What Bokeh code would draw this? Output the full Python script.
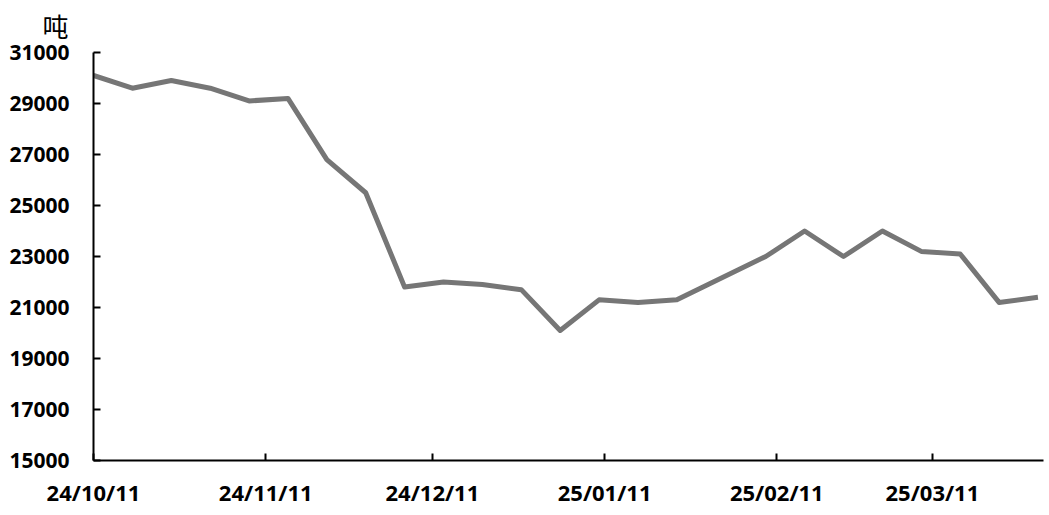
import pandas as pd
from bokeh.plotting import figure
from bokeh.models import Range1d, FixedTicker, DatetimeTickFormatter, ColumnDataSource
from bokeh.embed import file_html
from bokeh.resources import INLINE

# ---- data ----
dates = ["2024-10-11", "2024-10-18", "2024-10-25", "2024-11-01", "2024-11-08",
         "2024-11-15", "2024-11-22", "2024-11-29", "2024-12-06", "2024-12-13",
         "2024-12-20", "2024-12-27", "2025-01-03", "2025-01-10", "2025-01-17",
         "2025-01-24", "2025-02-09", "2025-02-16", "2025-02-23", "2025-03-02",
         "2025-03-09", "2025-03-16", "2025-03-23", "2025-03-30"]
values = [30100, 29600, 29900, 29600, 29100, 29200, 26800, 25500, 21800, 22000,
          21900, 21700, 20100, 21300, 21200, 21300, 23000, 24000, 23000, 24000,
          23200, 23100, 21200, 21400]
x_tick_dates = ["2024-10-11", "2024-11-11", "2024-12-11", "2025-01-11", "2025-02-11", "2025-03-11"]
y_ticks = list(range(15000, 31001, 2000))
unit_label = "吨"

def to_ms(d):
    return pd.Timestamp(d).timestamp() * 1000.0

src = ColumnDataSource(dict(x=pd.to_datetime(dates), y=values))

p = figure(frame_width=950, frame_height=408, output_backend="svg", toolbar_location=None,
           x_axis_type="datetime",
           x_range=Range1d(to_ms("2024-10-11"), to_ms("2025-03-31")),
           y_range=Range1d(15000, 31000),
           min_border_left=93, min_border_right=5, min_border_top=52, min_border_bottom=48)
p.outline_line_color = None
p.grid.visible = False
p.background_fill_color = "white"
p.border_fill_color = "white"

# unit label as a left-shifted title
p.title.text = unit_label
p.title.align = "left"
p.title.offset = -51
p.title.standoff = 19
p.title.text_font = "DejaVu Sans, Noto Sans CJK SC"
p.title.text_font_size = "26px"
p.title.text_font_style = "normal"
p.title.text_color = "black"

p.line("x", "y", source=src, line_color="#767676", line_width=5, line_join="round")

# axes
p.xaxis.ticker = FixedTicker(ticks=[to_ms(d) for d in x_tick_dates])
fmt = "%y/%m/%d"
p.xaxis.formatter = DatetimeTickFormatter(days=fmt, months=fmt, years=fmt, hours=fmt,
                                          hourmin=fmt, minutes=fmt, minsec=fmt,
                                          seconds=fmt, milliseconds=fmt, microseconds=fmt)
p.yaxis.ticker = FixedTicker(ticks=y_ticks)

for ax in (p.xaxis[0], p.yaxis[0]):
    ax.axis_line_color = "black"
    ax.axis_line_width = 2
    ax.major_tick_line_color = "black"
    ax.major_tick_line_width = 2
    ax.major_tick_in = 7
    ax.major_tick_out = 0
    ax.minor_tick_line_color = None
    ax.major_label_text_font = "Noto Sans"
    ax.major_label_text_font_style = "bold"
    ax.major_label_text_color = "black"

p.yaxis.major_label_text_font_size = "21px"
p.yaxis.major_label_standoff = 24
p.xaxis.major_label_text_font_size = "22px"
p.xaxis.major_label_standoff = 16

open("out.html", "w").write(file_html(p, INLINE))
